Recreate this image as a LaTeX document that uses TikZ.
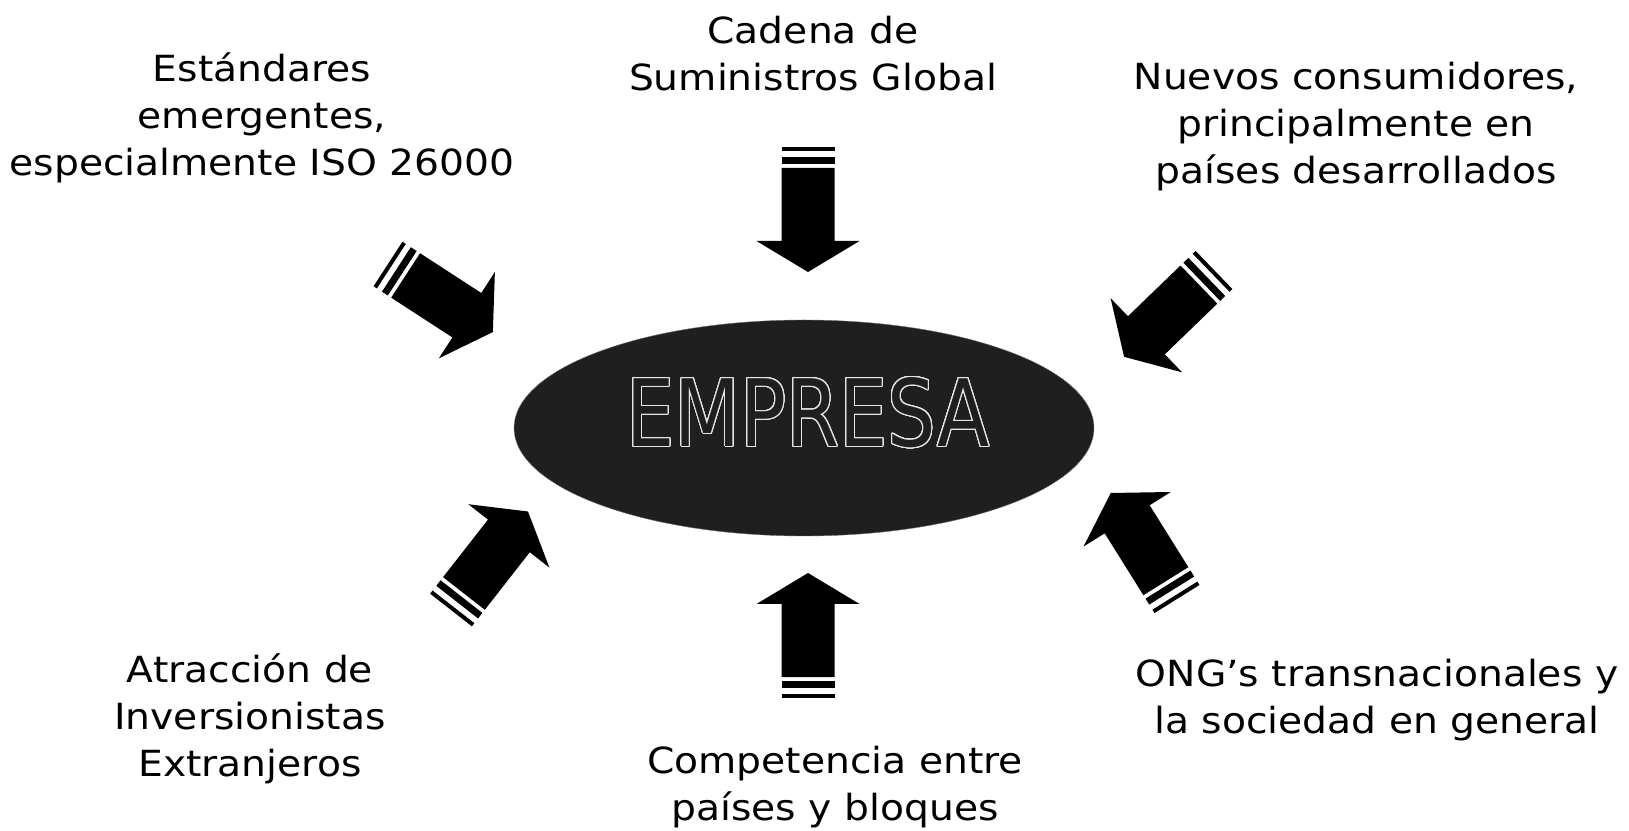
\documentclass[tikz,border=0pt]{standalone}
\usepackage{fontspec}
\setmainfont[FakeStretch=1.09]{DejaVu Sans}
\newfontfamily\empresafont{DejaVu Sans}
\usepackage{contour}
\contourlength{1.1pt}
\contournumber{32}
\usetikzlibrary{shapes.geometric}

\tikzset{
    factor/.style={align=center, inner sep=0pt, font=\fontsize{36}{47}\selectfont},
    bigarrow/.pic={
        \fill (0,-26.5) rectangle (4,26.5);
        \fill (10,-26.5) rectangle (17,26.5);
        \fill (21,-26.5) -- (94,-26.5) -- (94,-51.5) -- (125,0) -- (94,51.5) -- (94,26.5) -- (21,26.5) -- cycle;
    }
}

\begin{document}
\begin{tikzpicture}[x=1pt,y=1pt]

    \useasboundingbox (0,0) rectangle (1629,830);

    % centre
    \node[ellipse, fill=black!88, draw=black!55, minimum width=580pt, minimum height=216pt] (empresa) at (804,402) {};
    \node[xscale=0.82, font=\empresafont\fontsize{93}{100}\selectfont] (empresatext) at (808,417)
        {\color{black!88}\contour{white!90!black}{EMPRESA}};

    % factors
    \node[factor] (estandares) at (262,712) {Estándares\\emergentes,\\especialmente ISO 26000};
    \node[factor] (cadena) at (813,776) {Cadena de\\Suministros Global};
    \node[factor] (consumidores) at (1356,703) {Nuevos consumidores,\\principalmente en\\países desarrollados};
    \node[factor] (inversionistas) at (250,111) {Atracción de\\Inversionistas\\Extranjeros};
    \node[factor] (competencia) at (835,43) {Competencia entre\\países y bloques};
    \node[factor] (ong) at (1377,130) {ONG’s transnacionales y\\la sociedad en general};

    % arrow tails
    \coordinate (tlTail) at (388,566);
    \coordinate (tTail) at (808,683);
    \coordinate (trTail) at (1214,560);
    \coordinate (blTail) at (451,220);
    \coordinate (bTail) at (808,132);
    \coordinate (brTail) at (1177,231);

    % arrows
    \pic[rotate=-33] at (tlTail) {bigarrow}; % estandares -> empresa
    \pic[rotate=-90] at (tTail) {bigarrow}; % cadena -> empresa
    \pic[rotate=-136] at (trTail) {bigarrow}; % consumidores -> empresa
    \pic[rotate=52] at (blTail) {bigarrow}; % inversionistas -> empresa
    \pic[rotate=90] at (bTail) {bigarrow}; % competencia -> empresa
    \pic[rotate=122] at (brTail) {bigarrow}; % ong -> empresa

\end{tikzpicture}
\end{document}
